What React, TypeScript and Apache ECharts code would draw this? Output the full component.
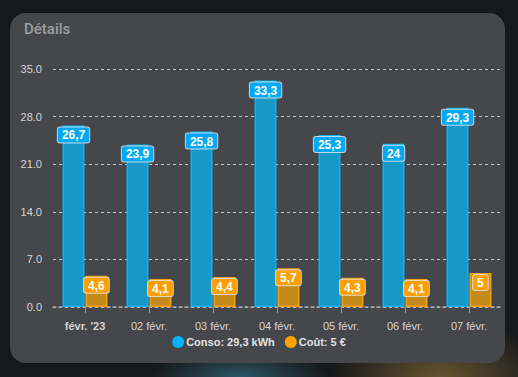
import React, { useEffect, useRef } from "react";
import * as echarts from "echarts";

const categories = ["févr. '23", "02 févr.", "03 févr.", "04 févr.", "05 févr.", "06 févr.", "07 févr."];
const consoValues = [26.7, 23.9, 25.8, 33.3, 25.3, 24, 29.3];
const coutValues = [4.6, 4.1, 4.4, 5.7, 4.3, 4.1, 5];
const seriesNames = ["Conso", "Coût"];
const legendLabels = ["Conso: 29,3 kWh", "Coût: 5 €"];
const legendColors = ["#06b2f8", "#ffa200"];
const yTicks = [0, 7, 14, 21, 28, 35];

const FONT = "'Liberation Sans', Arial, Helvetica, sans-serif";
const TITLE_FONT = "Roboto, 'Noto Sans', sans-serif";

function fmt(v: number) {
  return String(v).replace(".", ",");
}

export default function App() {
  const ref = useRef<HTMLDivElement>(null);
  useEffect(() => {
    if (!ref.current) return;
    const chart = echarts.init(ref.current, null, { renderer: "svg" });
    const labelCommon = {
      show: true,
      position: "insideTop" as const,
      distance: 2,
      color: "#ffffff",
      fontFamily: FONT,
      fontSize: 12,
      fontWeight: "bold" as const,
      lineHeight: 12,
      padding: [2, 4, 1, 4],
      borderColor: "rgba(230,230,230,0.85)",
      borderWidth: 1,
      borderRadius: 2,
      formatter: (p: any) => fmt(p.value),
    };
    chart.setOption({
      animation: false,
      backgroundColor: "transparent",
      title: {
        text: "Détails",
        left: 24,
        top: 21,
        padding: 0,
        textStyle: { color: "#9d9ea1", fontFamily: TITLE_FONT, fontSize: 15, fontWeight: 500 },
      },
      grid: { left: 53, right: 17, top: 69, bottom: 70 },
      legend: {
        bottom: 24,
        left: "center",
        icon: "circle",
        itemWidth: 12,
        itemHeight: 12,
        itemGap: 10,
        data: seriesNames.map((n, i) => ({
          name: n,
          itemStyle: { color: legendColors[i], borderWidth: 0 },
        })),
        formatter: (name: string) => legendLabels[seriesNames.indexOf(name)],
        textStyle: { color: "#e2e2e2", fontFamily: FONT, fontSize: 11, fontWeight: "bold", padding: [0, 0, 0, -3] },
      },
      xAxis: {
        type: "category",
        data: categories,
        axisLine: { show: true, lineStyle: { color: "#a8a8a8", width: 1.5, type: [3, 3] } },
        axisTick: { show: true, alignWithLabel: true, interval: 0, length: 6, lineStyle: { color: "#9a9a9a" } },
        axisLabel: {
          interval: 0,
          margin: 13,
          fontFamily: FONT,
          fontSize: 11,
          color: "#d4d4d4",
          formatter: (v: string, i: number) => (i === 0 ? "{b|" + v + "}" : v),
          rich: { b: { fontFamily: FONT, fontSize: 11, fontWeight: "bold", color: "#d4d4d4" } },
        },
      },
      yAxis: {
        type: "value",
        min: yTicks[0],
        max: yTicks[yTicks.length - 1],
        interval: 7,
        axisLine: { show: false },
        axisTick: { show: false },
        axisLabel: {
          margin: 11,
          fontFamily: FONT,
          fontSize: 11,
          color: "#d4d4d4",
          formatter: (v: number) => v.toFixed(1),
        },
        splitLine: { show: true, lineStyle: { color: "#c4c4c4", width: 1, type: [3, 3] } },
      },
      series: [
        {
          name: seriesNames[0],
          type: "bar",
          data: consoValues,
          barWidth: 22,
          barGap: "4%",
          itemStyle: { color: "#1799c8", borderColor: "#08b4f4", borderWidth: 1.5 },
          label: { ...labelCommon, backgroundColor: "#03a9f4" },
        },
        {
          name: seriesNames[1],
          type: "bar",
          data: coutValues,
          barWidth: 22,
          itemStyle: { color: "#c68a1b", borderColor: "#f5a10c", borderWidth: 1.5 },
          label: { ...labelCommon, backgroundColor: "#ffa000" },
        },
      ],
    });
    return () => chart.dispose();
  }, []);

  return (
    <div
      style={{
        position: "fixed",
        left: 0,
        top: 0,
        width: 518,
        height: 377,
        overflow: "hidden",
        background:
          "radial-gradient(ellipse 90px 30px at 240px 377px, rgba(50,100,120,0.8), rgba(40,80,100,0) 100%), radial-gradient(ellipse 110px 60px at 440px 377px, rgba(110,90,50,0.9), rgba(100,80,40,0) 100%), #17181a",
      }}
    >
      <div
        style={{
          position: "absolute",
          left: 10,
          top: 13,
          width: 495,
          height: 350,
          borderRadius: 16,
          background: "#46474b",
        }}
      />
      <div ref={ref} style={{ position: "absolute", left: 0, top: 0, width: 518, height: 377 }} />
    </div>
  );
}
